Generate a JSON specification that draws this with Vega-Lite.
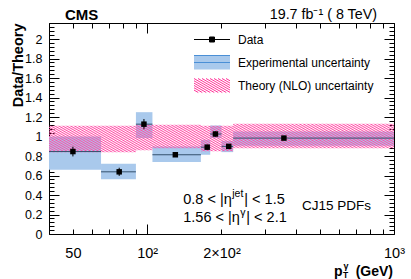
{
  "$schema": "https://vega.github.io/schema/vega-lite/v6.json",
  "width": 345,
  "height": 211,
  "autosize": {"type": "none"},
  "padding": {"left": 49, "top": 23, "right": 17, "bottom": 45},
  "background": "white",
  "config": {
    "view": {"stroke": "black", "strokeWidth": 1},
    "axis": {"labelFont": "Liberation Sans", "labelFontSize": 12, "labelColor": "black", "tickColor": "black", "tickWidth": 1, "domain": false, "grid": false, "labelFlush": false, "labelOverlap": false, "titleFont": "Liberation Sans", "titleColor": "black"},
    "text": {"font": "Liberation Sans", "color": "black"}
  },
  "datasets": {
    "bins": [
      {"lo": 40, "hi": 65, "pt": 50, "ratio": 0.846, "elo": 0.796, "ehi": 0.896, "explo": 0.659, "exphi": 1.0},
      {"lo": 65, "hi": 90, "pt": 77, "ratio": 0.638, "elo": 0.596, "ehi": 0.68, "explo": 0.563, "exphi": 0.72},
      {"lo": 90, "hi": 105, "pt": 97, "ratio": 1.127, "elo": 1.075, "ehi": 1.18, "explo": 0.984, "exphi": 1.25},
      {"lo": 105, "hi": 165, "pt": 130, "ratio": 0.813, "elo": 0.8, "ehi": 0.826, "explo": 0.738, "exphi": 0.898},
      {"lo": 165, "hi": 180, "pt": 175, "ratio": 0.891, "elo": 0.865, "ehi": 0.917, "explo": 0.813, "exphi": 0.966},
      {"lo": 180, "hi": 200, "pt": 189, "ratio": 1.026, "elo": 1.0, "ehi": 1.052, "explo": 0.984, "exphi": 1.113},
      {"lo": 200, "hi": 223, "pt": 214, "ratio": 0.899, "elo": 0.88, "ehi": 0.918, "explo": 0.84, "exphi": 0.956},
      {"lo": 223, "hi": 1000, "pt": 358, "ratio": 0.984, "elo": 0.97, "ehi": 0.998, "explo": 0.905, "exphi": 1.051}
    ],
    "theory": [
      {"pt": 40, "lo": 0.84, "hi": 1.11},
      {"pt": 65, "lo": 0.84, "hi": 1.11},
      {"pt": 90, "lo": 0.86, "hi": 1.12},
      {"pt": 105, "lo": 0.88, "hi": 1.12},
      {"pt": 165, "lo": 0.85, "hi": 1.11},
      {"pt": 180, "lo": 0.85, "hi": 1.11},
      {"pt": 200, "lo": 0.85, "hi": 1.11},
      {"pt": 223, "lo": 0.88, "hi": 1.13},
      {"pt": 1000, "lo": 0.88, "hi": 1.13}
    ]
  },
  "layer": [
    {
      "data": {"name": "bins"},
      "mark": {"type": "rect"},
      "encoding": {
        "x": {"field": "lo", "type": "quantitative", "scale": {"type": "log", "domain": [40, 1000], "nice": false},
          "axis": {"orient": "bottom", "values": [40, 50, 60, 70, 80, 90, 100, 200, 300, 400, 500, 600, 700, 800, 900, 1000], "tickSize": -10,
            "tickDash": {"condition": {"test": "datum.value != 100 && datum.value != 1000", "value": [5, 30]}, "value": [30, 0]},
            "labelExpr": "datum.value == 50 ? '50' : datum.value == 100 ? '10²' : datum.value == 200 ? '2×10²' : datum.value == 1000 ? '10³' : ''",
            "labelFontSize": 14.5, "labelPadding": 22, "title": null}},
        "x2": {"field": "hi"},
        "y": {"field": "explo", "type": "quantitative", "scale": {"domain": [0, 2.165], "nice": false, "zero": false},
          "axis": {"orient": "left", "values": [0,0.04,0.08,0.12,0.16,0.2,0.24,0.28,0.32,0.36,0.4,0.44,0.48,0.52,0.56,0.6,0.64,0.68,0.72,0.76,0.8,0.84,0.88,0.92,0.96,1,1.04,1.08,1.12,1.16,1.2,1.24,1.28,1.32,1.36,1.4,1.44,1.48,1.52,1.56,1.6,1.64,1.68,1.72,1.76,1.8,1.84,1.88,1.92,1.96,2,2.04,2.08,2.12,2.16],
            "tickSize": -10,
            "tickDash": {"condition": {"test": "abs(datum.value*5 - round(datum.value*5)) > 0.01", "value": [5, 30]}, "value": [30, 0]},
            "labelExpr": "abs(datum.value*5 - round(datum.value*5)) < 0.01 ? format(datum.value, '.1~f') : ''",
            "labelFontSize": 12.5, "labelPadding": 17,
            "title": "Data/Theory", "titleFontSize": 14.5, "titleFontWeight": "bold", "titleX": -27, "titleY": 0, "titleAlign": "right", "titleAngle": -90, "titleBaseline": "alphabetic"}},
        "y2": {"field": "exphi"},
        "color": {"datum": "Experimental uncertainty", "type": "nominal",
          "scale": {"domain": ["Data", "Experimental uncertainty", "Theory (NLO) uncertainty"], "range": ["#000000", "#a9c9ec", "#ff3399"]},
          "legend": {"orient": "none", "legendX": 157, "legendY": 10.5, "title": null, "symbolSize": 100, "labelFont": "Liberation Sans", "labelFontSize": 12, "labelColor": "black", "labelOffset": 20, "rowPadding": 5, "padding": 0, "labelLimit": 300,
            "encode": {"symbols": {"update": {
              "shape": [
                {"test": "datum.value === 'Data'", "value": "M-3.6,-1.4M3.6,1.4M-3.6,0H3.6M-0.5,-0.5H0.5V0.5H-0.5Z"},
                {"test": "datum.value === 'Experimental uncertainty'", "value": "M-3.6,0H3.6M-3.6,-1.4H3.6V1.4H-3.6Z"},
                {"value": "M-3.6,0.91L-2.75,1.4M-3.6,0.448L-1.95,1.4M-3.6,-0.014L-1.15,1.4M-3.6,-0.476L-0.35,1.4M-3.6,-0.938L0.45,1.4M-3.6,-1.4L1.25,1.4M-2.8,-1.4L2.05,1.4M-2,-1.4L2.85,1.4M-1.2,-1.4L3.6,1.372M-0.4,-1.4L3.6,0.91M0.4,-1.4L3.6,0.448M1.2,-1.4L3.6,-0.014M2,-1.4L3.6,-0.476M2.8,-1.4L3.6,-0.938"}
              ],
              "stroke": [
                {"test": "datum.value === 'Data'", "value": "#000000"},
                {"test": "datum.value === 'Experimental uncertainty'", "value": "#4a8fd6"},
                {"value": "#ff3399"}
              ],
              "strokeDash": [
                {"test": "datum.value === 'Experimental uncertainty'", "value": [36, 300]},
                {"value": [300, 0]}
              ],
              "strokeWidth": {"value": 1},
              "opacity": {"value": 1}
            }}}}}
      }
    },
    {
      "data": {"name": "theory"},
      "mark": {"type": "area", "interpolate": "step-after",
        "fill": {"gradient": "linear", "x1": 0, "y1": 1, "x2": 1.1193, "y2": 0.8412, "stops": [
          {"offset":0,"color":"#ff4da6"},{"offset":0.005,"color":"#ff4da600"},{"offset":0.01,"color":"#ff4da6"},{"offset":0.015,"color":"#ff4da600"},{"offset":0.02,"color":"#ff4da6"},{"offset":0.025,"color":"#ff4da600"},{"offset":0.03,"color":"#ff4da6"},{"offset":0.035,"color":"#ff4da600"},{"offset":0.04,"color":"#ff4da6"},{"offset":0.045,"color":"#ff4da600"},
          {"offset":0.05,"color":"#ff4da6"},{"offset":0.055,"color":"#ff4da600"},{"offset":0.06,"color":"#ff4da6"},{"offset":0.065,"color":"#ff4da600"},{"offset":0.07,"color":"#ff4da6"},{"offset":0.075,"color":"#ff4da600"},{"offset":0.08,"color":"#ff4da6"},{"offset":0.085,"color":"#ff4da600"},{"offset":0.09,"color":"#ff4da6"},{"offset":0.095,"color":"#ff4da600"},
          {"offset":0.1,"color":"#ff4da6"},{"offset":0.105,"color":"#ff4da600"},{"offset":0.11,"color":"#ff4da6"},{"offset":0.115,"color":"#ff4da600"},{"offset":0.12,"color":"#ff4da6"},{"offset":0.125,"color":"#ff4da600"},{"offset":0.13,"color":"#ff4da6"},{"offset":0.135,"color":"#ff4da600"},{"offset":0.14,"color":"#ff4da6"},{"offset":0.145,"color":"#ff4da600"},
          {"offset":0.15,"color":"#ff4da6"},{"offset":0.155,"color":"#ff4da600"},{"offset":0.16,"color":"#ff4da6"},{"offset":0.165,"color":"#ff4da600"},{"offset":0.17,"color":"#ff4da6"},{"offset":0.175,"color":"#ff4da600"},{"offset":0.18,"color":"#ff4da6"},{"offset":0.185,"color":"#ff4da600"},{"offset":0.19,"color":"#ff4da6"},{"offset":0.195,"color":"#ff4da600"},
          {"offset":0.2,"color":"#ff4da6"},{"offset":0.205,"color":"#ff4da600"},{"offset":0.21,"color":"#ff4da6"},{"offset":0.215,"color":"#ff4da600"},{"offset":0.22,"color":"#ff4da6"},{"offset":0.225,"color":"#ff4da600"},{"offset":0.23,"color":"#ff4da6"},{"offset":0.235,"color":"#ff4da600"},{"offset":0.24,"color":"#ff4da6"},{"offset":0.245,"color":"#ff4da600"},
          {"offset":0.25,"color":"#ff4da6"},{"offset":0.255,"color":"#ff4da600"},{"offset":0.26,"color":"#ff4da6"},{"offset":0.265,"color":"#ff4da600"},{"offset":0.27,"color":"#ff4da6"},{"offset":0.275,"color":"#ff4da600"},{"offset":0.28,"color":"#ff4da6"},{"offset":0.285,"color":"#ff4da600"},{"offset":0.29,"color":"#ff4da6"},{"offset":0.295,"color":"#ff4da600"},
          {"offset":0.3,"color":"#ff4da6"},{"offset":0.305,"color":"#ff4da600"},{"offset":0.31,"color":"#ff4da6"},{"offset":0.315,"color":"#ff4da600"},{"offset":0.32,"color":"#ff4da6"},{"offset":0.325,"color":"#ff4da600"},{"offset":0.33,"color":"#ff4da6"},{"offset":0.335,"color":"#ff4da600"},{"offset":0.34,"color":"#ff4da6"},{"offset":0.345,"color":"#ff4da600"},
          {"offset":0.35,"color":"#ff4da6"},{"offset":0.355,"color":"#ff4da600"},{"offset":0.36,"color":"#ff4da6"},{"offset":0.365,"color":"#ff4da600"},{"offset":0.37,"color":"#ff4da6"},{"offset":0.375,"color":"#ff4da600"},{"offset":0.38,"color":"#ff4da6"},{"offset":0.385,"color":"#ff4da600"},{"offset":0.39,"color":"#ff4da6"},{"offset":0.395,"color":"#ff4da600"},
          {"offset":0.4,"color":"#ff4da6"},{"offset":0.405,"color":"#ff4da600"},{"offset":0.41,"color":"#ff4da6"},{"offset":0.415,"color":"#ff4da600"},{"offset":0.42,"color":"#ff4da6"},{"offset":0.425,"color":"#ff4da600"},{"offset":0.43,"color":"#ff4da6"},{"offset":0.435,"color":"#ff4da600"},{"offset":0.44,"color":"#ff4da6"},{"offset":0.445,"color":"#ff4da600"},
          {"offset":0.45,"color":"#ff4da6"},{"offset":0.455,"color":"#ff4da600"},{"offset":0.46,"color":"#ff4da6"},{"offset":0.465,"color":"#ff4da600"},{"offset":0.47,"color":"#ff4da6"},{"offset":0.475,"color":"#ff4da600"},{"offset":0.48,"color":"#ff4da6"},{"offset":0.485,"color":"#ff4da600"},{"offset":0.49,"color":"#ff4da6"},{"offset":0.495,"color":"#ff4da600"},
          {"offset":0.5,"color":"#ff4da6"},{"offset":0.505,"color":"#ff4da600"},{"offset":0.51,"color":"#ff4da6"},{"offset":0.515,"color":"#ff4da600"},{"offset":0.52,"color":"#ff4da6"},{"offset":0.525,"color":"#ff4da600"},{"offset":0.53,"color":"#ff4da6"},{"offset":0.535,"color":"#ff4da600"},{"offset":0.54,"color":"#ff4da6"},{"offset":0.545,"color":"#ff4da600"},
          {"offset":0.55,"color":"#ff4da6"},{"offset":0.555,"color":"#ff4da600"},{"offset":0.56,"color":"#ff4da6"},{"offset":0.565,"color":"#ff4da600"},{"offset":0.57,"color":"#ff4da6"},{"offset":0.575,"color":"#ff4da600"},{"offset":0.58,"color":"#ff4da6"},{"offset":0.585,"color":"#ff4da600"},{"offset":0.59,"color":"#ff4da6"},{"offset":0.595,"color":"#ff4da600"},
          {"offset":0.6,"color":"#ff4da6"},{"offset":0.605,"color":"#ff4da600"},{"offset":0.61,"color":"#ff4da6"},{"offset":0.615,"color":"#ff4da600"},{"offset":0.62,"color":"#ff4da6"},{"offset":0.625,"color":"#ff4da600"},{"offset":0.63,"color":"#ff4da6"},{"offset":0.635,"color":"#ff4da600"},{"offset":0.64,"color":"#ff4da6"},{"offset":0.645,"color":"#ff4da600"},
          {"offset":0.65,"color":"#ff4da6"},{"offset":0.655,"color":"#ff4da600"},{"offset":0.66,"color":"#ff4da6"},{"offset":0.665,"color":"#ff4da600"},{"offset":0.67,"color":"#ff4da6"},{"offset":0.675,"color":"#ff4da600"},{"offset":0.68,"color":"#ff4da6"},{"offset":0.685,"color":"#ff4da600"},{"offset":0.69,"color":"#ff4da6"},{"offset":0.695,"color":"#ff4da600"},
          {"offset":0.7,"color":"#ff4da6"},{"offset":0.705,"color":"#ff4da600"},{"offset":0.71,"color":"#ff4da6"},{"offset":0.715,"color":"#ff4da600"},{"offset":0.72,"color":"#ff4da6"},{"offset":0.725,"color":"#ff4da600"},{"offset":0.73,"color":"#ff4da6"},{"offset":0.735,"color":"#ff4da600"},{"offset":0.74,"color":"#ff4da6"},{"offset":0.745,"color":"#ff4da600"},
          {"offset":0.75,"color":"#ff4da6"},{"offset":0.755,"color":"#ff4da600"},{"offset":0.76,"color":"#ff4da6"},{"offset":0.765,"color":"#ff4da600"},{"offset":0.77,"color":"#ff4da6"},{"offset":0.775,"color":"#ff4da600"},{"offset":0.78,"color":"#ff4da6"},{"offset":0.785,"color":"#ff4da600"},{"offset":0.79,"color":"#ff4da6"},{"offset":0.795,"color":"#ff4da600"},
          {"offset":0.8,"color":"#ff4da6"},{"offset":0.805,"color":"#ff4da600"},{"offset":0.81,"color":"#ff4da6"},{"offset":0.815,"color":"#ff4da600"},{"offset":0.82,"color":"#ff4da6"},{"offset":0.825,"color":"#ff4da600"},{"offset":0.83,"color":"#ff4da6"},{"offset":0.835,"color":"#ff4da600"},{"offset":0.84,"color":"#ff4da6"},{"offset":0.845,"color":"#ff4da600"},
          {"offset":0.85,"color":"#ff4da6"},{"offset":0.855,"color":"#ff4da600"},{"offset":0.86,"color":"#ff4da6"},{"offset":0.865,"color":"#ff4da600"},{"offset":0.87,"color":"#ff4da6"},{"offset":0.875,"color":"#ff4da600"},{"offset":0.88,"color":"#ff4da6"},{"offset":0.885,"color":"#ff4da600"},{"offset":0.89,"color":"#ff4da6"},{"offset":0.895,"color":"#ff4da600"},
          {"offset":0.9,"color":"#ff4da6"},{"offset":0.905,"color":"#ff4da600"},{"offset":0.91,"color":"#ff4da6"},{"offset":0.915,"color":"#ff4da600"},{"offset":0.92,"color":"#ff4da6"},{"offset":0.925,"color":"#ff4da600"},{"offset":0.93,"color":"#ff4da6"},{"offset":0.935,"color":"#ff4da600"},{"offset":0.94,"color":"#ff4da6"},{"offset":0.945,"color":"#ff4da600"},
          {"offset":0.95,"color":"#ff4da6"},{"offset":0.955,"color":"#ff4da600"},{"offset":0.96,"color":"#ff4da6"},{"offset":0.965,"color":"#ff4da600"},{"offset":0.97,"color":"#ff4da6"},{"offset":0.975,"color":"#ff4da600"},{"offset":0.98,"color":"#ff4da6"},{"offset":0.985,"color":"#ff4da600"},{"offset":0.99,"color":"#ff4da6"},{"offset":0.995,"color":"#ff4da600"},
          {"offset":1,"color":"#ff4da6"}]},
        "strokeWidth": 0},
      "encoding": {
        "x": {"field": "pt", "type": "quantitative", "scale": {"type": "log", "domain": [40, 1000], "nice": false},
          "axis": {"orient": "top", "values": [40, 50, 60, 70, 80, 90, 100, 200, 300, 400, 500, 600, 700, 800, 900, 1000], "tickSize": -10,
            "tickDash": {"condition": {"test": "datum.value != 100 && datum.value != 1000", "value": [5, 30]}, "value": [30, 0]},
            "labels": false, "title": null}},
        "y": {"field": "lo", "type": "quantitative", "scale": {"domain": [0, 2.165], "nice": false, "zero": false},
          "axis": {"orient": "right", "values": [0,0.04,0.08,0.12,0.16,0.2,0.24,0.28,0.32,0.36,0.4,0.44,0.48,0.52,0.56,0.6,0.64,0.68,0.72,0.76,0.8,0.84,0.88,0.92,0.96,1,1.04,1.08,1.12,1.16,1.2,1.24,1.28,1.32,1.36,1.4,1.44,1.48,1.52,1.56,1.6,1.64,1.68,1.72,1.76,1.8,1.84,1.88,1.92,1.96,2,2.04,2.08,2.12,2.16],
            "tickSize": -10,
            "tickDash": {"condition": {"test": "abs(datum.value*5 - round(datum.value*5)) > 0.01", "value": [5, 30]}, "value": [30, 0]},
            "labels": false, "title": null}},
        "y2": {"field": "hi"}
      }
    },
    {
      "data": {"name": "bins"},
      "mark": {"type": "rule", "color": "#34506d", "strokeWidth": 1},
      "encoding": {
        "x": {"field": "lo", "type": "quantitative", "scale": {"type": "log", "domain": [40, 1000], "nice": false}, "axis": null},
        "x2": {"field": "hi"},
        "y": {"field": "ratio", "type": "quantitative", "scale": {"domain": [0, 2.165], "nice": false, "zero": false}, "axis": null}
      }
    },
    {
      "data": {"name": "bins"},
      "mark": {"type": "rule", "color": "#000000", "strokeWidth": 1},
      "encoding": {
        "x": {"field": "pt", "type": "quantitative", "scale": {"type": "log", "domain": [40, 1000], "nice": false}, "axis": null},
        "y": {"field": "elo", "type": "quantitative", "scale": {"domain": [0, 2.165], "nice": false, "zero": false}, "axis": null},
        "y2": {"field": "ehi"}
      }
    },
    {
      "data": {"name": "bins"},
      "mark": {"type": "point", "shape": "square", "filled": true, "size": 30, "color": "#000000", "opacity": 1},
      "encoding": {
        "x": {"field": "pt", "type": "quantitative", "scale": {"type": "log", "domain": [40, 1000], "nice": false}, "axis": null},
        "y": {"field": "ratio", "type": "quantitative", "scale": {"domain": [0, 2.165], "nice": false, "zero": false}, "axis": null}
      }
    },
    {
      "data": {"values": [{}]},
      "mark": {"type": "text", "text": "CMS", "font": "Liberation Sans", "fontWeight": "bold", "fontSize": 15, "align": "left", "baseline": "alphabetic", "dx": 16, "dy": -3},
      "encoding": {
        "x": {"datum": 40, "type": "quantitative", "scale": {"type": "log", "domain": [40, 1000], "nice": false}, "axis": null},
        "y": {"datum": 2.165, "type": "quantitative", "scale": {"domain": [0, 2.165], "nice": false, "zero": false}, "axis": null}
      }
    },
    {
      "data": {"values": [{}]},
      "mark": {"type": "text", "text": "19.7 fb⁻¹ ( 8 TeV)", "font": "Liberation Sans", "fontSize": 14.3, "align": "right", "baseline": "alphabetic", "dx": -17, "dy": -4},
      "encoding": {
        "x": {"datum": 1000, "type": "quantitative", "scale": {"type": "log", "domain": [40, 1000], "nice": false}, "axis": null},
        "y": {"datum": 2.165, "type": "quantitative", "scale": {"domain": [0, 2.165], "nice": false, "zero": false}, "axis": null}
      }
    },
    {
      "data": {"values": [{}]},
      "mark": {"type": "text", "text": "0.8 < |η", "font": "Liberation Sans", "fontSize": 14.5, "align": "left", "baseline": "alphabetic"},
      "encoding": {
        "x": {"datum": 140, "type": "quantitative", "scale": {"type": "log", "domain": [40, 1000], "nice": false}, "axis": null},
        "y": {"datum": 0.308, "type": "quantitative", "scale": {"domain": [0, 2.165], "nice": false, "zero": false}, "axis": null}
      }
    },
    {
      "data": {"values": [{}]},
      "mark": {"type": "text", "text": "jet", "font": "Liberation Sans", "fontSize": 10.5, "align": "left", "baseline": "alphabetic", "dx": 49, "dy": -6.5},
      "encoding": {
        "x": {"datum": 140, "type": "quantitative", "scale": {"type": "log", "domain": [40, 1000], "nice": false}, "axis": null},
        "y": {"datum": 0.308, "type": "quantitative", "scale": {"domain": [0, 2.165], "nice": false, "zero": false}, "axis": null}
      }
    },
    {
      "data": {"values": [{}]},
      "mark": {"type": "text", "text": "| < 1.5", "font": "Liberation Sans", "fontSize": 14.5, "align": "left", "baseline": "alphabetic", "dx": 61},
      "encoding": {
        "x": {"datum": 140, "type": "quantitative", "scale": {"type": "log", "domain": [40, 1000], "nice": false}, "axis": null},
        "y": {"datum": 0.308, "type": "quantitative", "scale": {"domain": [0, 2.165], "nice": false, "zero": false}, "axis": null}
      }
    },
    {
      "data": {"values": [{}]},
      "mark": {"type": "text", "text": "1.56 < |η", "font": "Liberation Sans", "fontSize": 14.5, "align": "left", "baseline": "alphabetic"},
      "encoding": {
        "x": {"datum": 140, "type": "quantitative", "scale": {"type": "log", "domain": [40, 1000], "nice": false}, "axis": null},
        "y": {"datum": 0.12, "type": "quantitative", "scale": {"domain": [0, 2.165], "nice": false, "zero": false}, "axis": null}
      }
    },
    {
      "data": {"values": [{}]},
      "mark": {"type": "text", "text": "γ", "font": "Liberation Sans", "fontSize": 10.5, "align": "left", "baseline": "alphabetic", "dx": 57, "dy": -6.5},
      "encoding": {
        "x": {"datum": 140, "type": "quantitative", "scale": {"type": "log", "domain": [40, 1000], "nice": false}, "axis": null},
        "y": {"datum": 0.12, "type": "quantitative", "scale": {"domain": [0, 2.165], "nice": false, "zero": false}, "axis": null}
      }
    },
    {
      "data": {"values": [{}]},
      "mark": {"type": "text", "text": "| < 2.1", "font": "Liberation Sans", "fontSize": 14.5, "align": "left", "baseline": "alphabetic", "dx": 63},
      "encoding": {
        "x": {"datum": 140, "type": "quantitative", "scale": {"type": "log", "domain": [40, 1000], "nice": false}, "axis": null},
        "y": {"datum": 0.12, "type": "quantitative", "scale": {"domain": [0, 2.165], "nice": false, "zero": false}, "axis": null}
      }
    },
    {
      "data": {"values": [{}]},
      "mark": {"type": "text", "text": "CJ15 PDFs", "font": "Liberation Sans", "fontSize": 13.5, "align": "left", "baseline": "alphabetic"},
      "encoding": {
        "x": {"datum": 424, "type": "quantitative", "scale": {"type": "log", "domain": [40, 1000], "nice": false}, "axis": null},
        "y": {"datum": 0.246, "type": "quantitative", "scale": {"domain": [0, 2.165], "nice": false, "zero": false}, "axis": null}
      }
    },
    {
      "data": {"values": [{}]},
      "mark": {"type": "text", "text": "(GeV)", "font": "Liberation Sans", "fontWeight": "bold", "fontSize": 14, "align": "right", "baseline": "alphabetic", "dx": -1, "dy": 41.5},
      "encoding": {
        "x": {"datum": 1000, "type": "quantitative", "scale": {"type": "log", "domain": [40, 1000], "nice": false}, "axis": null},
        "y": {"datum": 0, "type": "quantitative", "scale": {"domain": [0, 2.165], "nice": false, "zero": false}, "axis": null}
      }
    },
    {
      "data": {"values": [{}]},
      "mark": {"type": "text", "text": "p", "font": "Liberation Sans", "fontWeight": "bold", "fontSize": 14, "align": "left", "baseline": "alphabetic", "dx": -60, "dy": 41.5},
      "encoding": {
        "x": {"datum": 1000, "type": "quantitative", "scale": {"type": "log", "domain": [40, 1000], "nice": false}, "axis": null},
        "y": {"datum": 0, "type": "quantitative", "scale": {"domain": [0, 2.165], "nice": false, "zero": false}, "axis": null}
      }
    },
    {
      "data": {"values": [{}]},
      "mark": {"type": "text", "text": "T", "font": "Liberation Sans", "fontWeight": "bold", "fontSize": 8.5, "align": "left", "baseline": "alphabetic", "dx": -51, "dy": 43.8},
      "encoding": {
        "x": {"datum": 1000, "type": "quantitative", "scale": {"type": "log", "domain": [40, 1000], "nice": false}, "axis": null},
        "y": {"datum": 0, "type": "quantitative", "scale": {"domain": [0, 2.165], "nice": false, "zero": false}, "axis": null}
      }
    },
    {
      "data": {"values": [{}]},
      "mark": {"type": "text", "text": "γ", "font": "Liberation Sans", "fontWeight": "bold", "fontSize": 9, "align": "left", "baseline": "alphabetic", "dx": -50.5, "dy": 35},
      "encoding": {
        "x": {"datum": 1000, "type": "quantitative", "scale": {"type": "log", "domain": [40, 1000], "nice": false}, "axis": null},
        "y": {"datum": 0, "type": "quantitative", "scale": {"domain": [0, 2.165], "nice": false, "zero": false}, "axis": null}
      }
    }
  ],
  "resolve": {"axis": {"x": "independent", "y": "independent"}}
}
